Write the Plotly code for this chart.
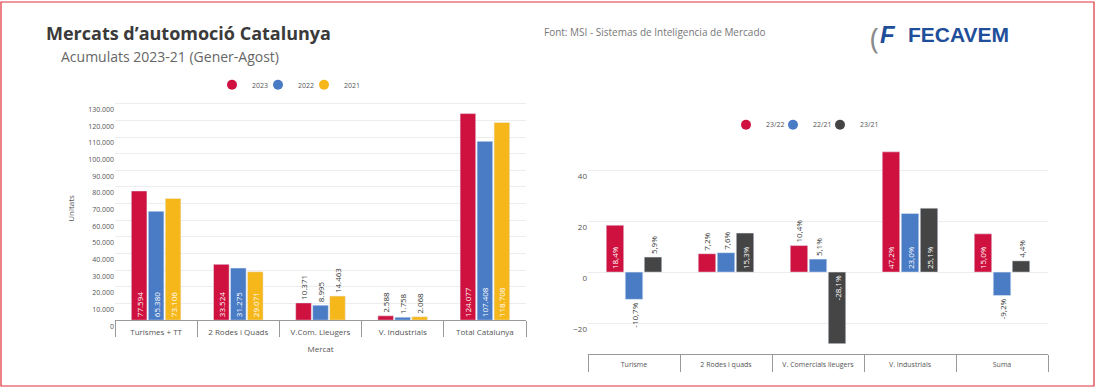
import plotly.graph_objects as go

# ---------------- data ----------------
left_categories = ["Turismes + TT", "2 Rodes i Quads", "V.Com. Lleugers", "V. Industrials", "Total Catalunya"]
years = ["2023", "2022", "2021"]
units_2023 = [77594, 33524, 10371, 2588, 124077]
units_2022 = [65380, 31275, 8995, 1758, 107408]
units_2021 = [73106, 29071, 14463, 2068, 118708]

right_categories = ["Turisme", "2 Rodes i quads", "V. Comercials lleugers", "V. Industrials", "Suma"]
periods = ["23/22", "22/21", "23/21"]
var_23_22 = [18.4, 7.2, 10.4, 47.2, 15.0]
var_22_21 = [-10.7, 7.6, 5.1, 23.0, -9.2]
var_23_21 = [5.9, 15.3, -28.1, 25.1, 4.4]

left_ticks = list(range(0, 130001, 10000))
right_ticks = [-20, 0, 20, 40]

# ---------------- styles ----------------
RED = "#CF1140"
BLUE = "#4A7BC5"
YELLOW = "#F6B71B"
GRAY = "#454545"
FONT = "Open Sans"
W, H = 1096, 388          # reference picture size (layout coordinates)
FIG_W, FIG_H = 1096, 397  # figure size


def px_x(x):
    return x / W


def px_y(y):
    return 1 - y / H


def fmt_units(v):
    return f"{v:,}".replace(",", ".")


def fmt_pct(v):
    return f"{v:.1f}".replace(".", ",") + "%"


fig = go.Figure()


def legend_spacer(legend_name, xa, ya):
    # invisible trailing entry so the last legend label is not clipped
    fig.add_trace(go.Scatter(
        x=[None], y=[None], mode="markers", name=" ",
        marker=dict(color="rgba(0,0,0,0)", size=1),
        xaxis=xa, yaxis=ya, legend=legend_name, hoverinfo="skip",
    ))


# ---------- left chart ----------
for name, vals, col in zip(years, [units_2023, units_2022, units_2021], [RED, BLUE, YELLOW]):
    inside = [v > 20000 for v in vals]
    fig.add_trace(go.Bar(
        x=left_categories, y=vals, name=name, marker=dict(color=col),
        text=[fmt_units(v) for v in vals],
        textposition=["inside" if i else "outside" for i in inside],
        insidetextanchor="start", textangle=-90,
        insidetextfont=dict(color="white", size=8, family=FONT),
        outsidetextfont=dict(color="#333333", size=8, family=FONT),
        constraintext="none", cliponaxis=False,
        xaxis="x", yaxis="y", showlegend=False, legendgroup=name,
    ))
    fig.add_trace(go.Scatter(
        x=[None], y=[None], mode="markers", name=name,
        marker=dict(color=col, size=10, symbol="circle"),
        xaxis="x", yaxis="y", legend="legend", legendgroup=name,
    ))
legend_spacer("legend", "x", "y")

# ---------- right chart ----------
for name, vals, col in zip(periods, [var_23_22, var_22_21, var_23_21], [RED, BLUE, GRAY]):
    inside = [abs(v) >= 14 for v in vals]
    fig.add_trace(go.Bar(
        x=right_categories, y=vals, name=name, marker=dict(color=col),
        text=[fmt_pct(v) for v in vals],
        textposition=["inside" if i else "outside" for i in inside],
        insidetextanchor="start", textangle=-90,
        insidetextfont=dict(color="white", size=8, family=FONT),
        outsidetextfont=dict(color="#333333", size=8, family=FONT),
        constraintext="none", cliponaxis=False,
        xaxis="x2", yaxis="y2", showlegend=False, legendgroup="r" + name,
    ))
    fig.add_trace(go.Scatter(
        x=[None], y=[None], mode="markers", name=name,
        marker=dict(color=col, size=10, symbol="circle"),
        xaxis="x2", yaxis="y2", legend="legend2", legendgroup="r" + name,
    ))
legend_spacer("legend2", "x2", "y2")

axis_font = dict(family=FONT, size=8, color="#555555")

fig.update_layout(
    width=FIG_W, height=FIG_H,
    margin=dict(l=0, r=0, t=0, b=0),
    paper_bgcolor="white", plot_bgcolor="white",
    font=dict(family=FONT, color="#444444"),
    barmode="group", bargap=0.38, bargroupgap=0.08,
    separators=",.",
    xaxis=dict(
        domain=[px_x(115), px_x(526)], anchor="y",
        showline=True, linecolor="#999999", linewidth=1,
        ticks="outside", tickson="boundaries", ticklen=16, tickcolor="#999999",
        tickfont=axis_font, ticklabelstandoff=4,
        title=dict(text="Mercat", font=dict(family=FONT, size=8, color="#555555"), standoff=10),
        showgrid=False,
    ),
    yaxis=dict(
        domain=[px_y(321), px_y(97)], anchor="x",
        range=[0, 130000 * 224 / 217],
        tickvals=left_ticks, ticktext=[fmt_units(v) for v in left_ticks],
        tickfont=dict(family=FONT, size=7, color="#555555"),
        ticklabelshift=6,
        gridcolor="#EDEDED", zeroline=False,
        title=dict(text="Unitats", font=dict(family=FONT, size=8, color="#555555"), standoff=12),
    ),
    xaxis2=dict(
        domain=[px_x(588), px_x(1048)], anchor="y2",
        showline=True, linecolor="#999999", linewidth=1,
        ticks="outside", tickson="boundaries", ticklen=17, tickcolor="#999999",
        tickfont=dict(family=FONT, size=7, color="#555555"), ticklabelstandoff=4,
        showgrid=False,
    ),
    yaxis2=dict(
        domain=[px_y(355), px_y(140)], anchor="x2",
        range=[-32.2, 52.0],
        tickvals=right_ticks,
        tickfont=dict(family=FONT, size=8, color="#555555"),
        ticklabelshift=6,
        gridcolor="#EDEDED", zeroline=False,
    ),
    legend=dict(
        orientation="h", x=px_x(212), xanchor="left", y=px_y(85), yanchor="middle",
        font=dict(family=FONT, size=7, color="#555555"),
        bgcolor="rgba(0,0,0,0)", itemwidth=30, entrywidth=1, entrywidthmode="pixels",
        tracegroupgap=0,
    ),
    legend2=dict(
        orientation="h", x=px_x(726), xanchor="left", y=px_y(125), yanchor="middle",
        font=dict(family=FONT, size=7, color="#555555"),
        bgcolor="rgba(0,0,0,0)", itemwidth=30, entrywidth=2, entrywidthmode="pixels",
        tracegroupgap=0,
    ),
)

# titles and texts
fig.add_annotation(
    text="<b>Mercats d’automoció Catalunya</b>", xref="paper", yref="paper",
    x=px_x(44), y=px_y(33), xanchor="left", yanchor="middle", showarrow=False,
    font=dict(family=FONT, size=18, color="#3a3a3a"),
)
fig.add_annotation(
    text="Acumulats 2023-21 (Gener-Agost)", xref="paper", yref="paper",
    x=px_x(59), y=px_y(57), xanchor="left", yanchor="middle", showarrow=False,
    font=dict(family=FONT, size=14, color="#666666"),
)
fig.add_annotation(
    text="Font: MSI - Sistemas de Inteligencia de Mercado", xref="paper", yref="paper",
    x=px_x(542), y=px_y(32), xanchor="left", yanchor="middle", showarrow=False,
    font=dict(family=FONT, size=10, color="#777777"),
)
# logo
fig.add_annotation(
    text="(", xref="paper", yref="paper",
    x=px_x(868), y=px_y(38), xanchor="left", yanchor="middle", showarrow=False,
    font=dict(family=FONT, size=30, color="#8a8a8a"),
)
fig.add_annotation(
    text="<b><i>F</i></b>", xref="paper", yref="paper",
    x=px_x(878), y=px_y(35), xanchor="left", yanchor="middle", showarrow=False,
    font=dict(family="Liberation Sans", size=24, color="#1F4E9A"),
)
fig.add_annotation(
    text="<b>FECAVEM</b>", xref="paper", yref="paper",
    x=px_x(906), y=px_y(35), xanchor="left", yanchor="middle", showarrow=False,
    font=dict(family="Liberation Sans Narrow, Liberation Sans", size=21, color="#1F4E9A"),
)

# red frame (kept inside the canvas)
fig.add_shape(
    type="rect", xref="paper", yref="paper",
    x0=px_x(1), x1=px_x(1094), y0=px_y(387), y1=px_y(2),
    line=dict(color="#E0303A", width=1.2), fillcolor="rgba(0,0,0,0)",
)

fig.write_html(
    "out.html",
    config={"displayModeBar": False},
    post_script=(
        "document.body.style.margin='0';"
        "document.body.style.padding='0';"
        "document.body.style.lineHeight='0';"
        "document.body.style.fontSize='0';"
    ),
)
